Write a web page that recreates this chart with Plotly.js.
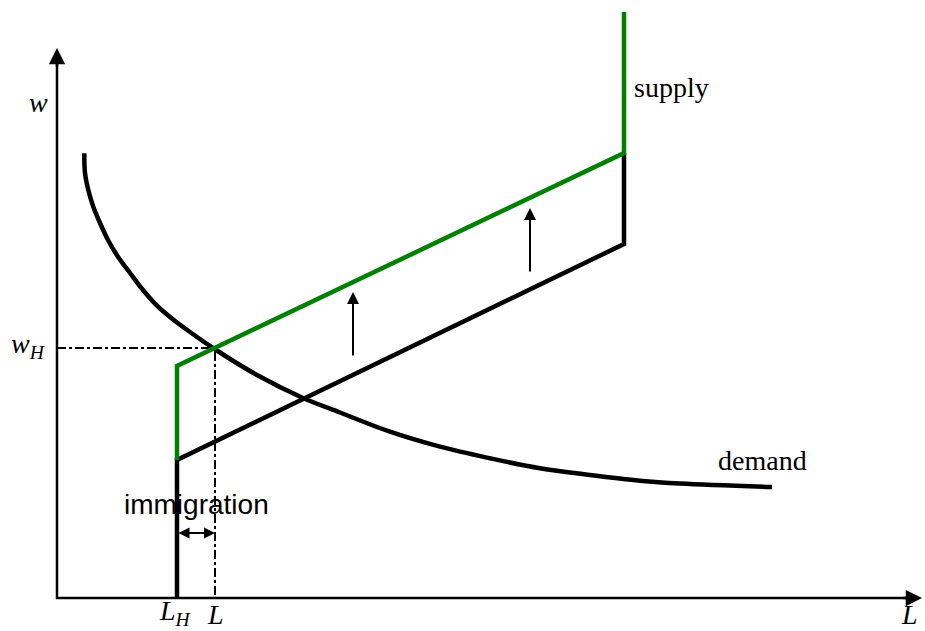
<!DOCTYPE html>
<html>
<head>
<meta charset="utf-8">
<script src="https://cdn.plot.ly/plotly-3.0.1.min.js"></script>
<style>body{margin:0;background:#fff}</style>
</head>
<body>
<div id="myDiv" style="width:925px;height:631px"></div>
<script>
// labour L on x, wage w on y (arbitrary units)
var demandL = [2.73, 2.8, 3.13, 3.63, 4.3, 5.1, 6.1, 7.3, 8.6, 10.1, 11.8, 13.3,
        15.6, 20.0, 24.6, 28.3, 33.3, 38.3, 43.3, 48.3, 53.3, 58.3, 62.3, 71.5]
var demandW = [44.47, 42.5, 40.8, 39.13, 37.5, 35.8, 34.13, 32.5, 30.8, 29.13, 27.7, 26.6,
        25.0, 22.3, 20.0, 18.55, 16.63, 15.13, 13.97, 12.97, 12.3, 11.73, 11.45, 11.1]

var supplyL = [12.0, 12.0, 56.7, 56.7]
var supplyW = [0, 13.8, 35.4, 44.5]

var newSupplyL = [12.0, 12.0, 56.7, 56.7]
var newSupplyW = [13.8, 23.2, 44.5, 58.6]

var LH = 12.0
var Lnew = 15.8
var wH = 25.0

var shiftL = [29.6, 47.3]
var shiftFrom = [24.1, 32.5]
var shiftTo = [30.6, 39.0]

var xMax = 86.5
var yMax = 55.0

var serif = 'Liberation Serif, Times New Roman, serif'

var demand = {
    x: demandL, y: demandW, type: 'scatter', mode: 'lines',
    line: {color: '#000', width: 4.5, shape: 'spline', smoothing: 1}
};
var supply = {
    x: supplyL, y: supplyW, type: 'scatter', mode: 'lines',
    line: {color: '#000', width: 4.5}
};
var supply2 = {
    x: newSupplyL, y: newSupplyW, type: 'scatter', mode: 'lines',
    line: {color: '#008000', width: 4.5}
};
var guides = {
    x: [0, Lnew, Lnew], y: [wH, wH, 0], type: 'scatter', mode: 'lines',
    line: {color: '#000', width: 2, dash: 'dashdot'}
};
var axes = {
    x: [0, 0, xMax - 1], y: [yMax - 1, 0, 0], type: 'scatter', mode: 'lines',
    line: {color: '#000', width: 2.5}
};

var data = [axes, guides, demand, supply, supply2];

function arrow(x0, y0, x1, y1, w, extra) {
    var a = {x: x1, y: y1, ax: x0, ay: y0, xref: 'x', yref: 'y', axref: 'x', ayref: 'y',
        text: '', showarrow: true, arrowhead: 2, arrowsize: 1.2, arrowwidth: w, arrowcolor: '#000'};
    for (var k in extra) a[k] = extra[k];
    return a;
}

function label(x, y, txt, size, extra) {
    var a = {x: x, y: y, xref: 'x', yref: 'y', text: txt, showarrow: false,
        font: {family: serif, size: size, color: '#000'}};
    for (var k in extra) a[k] = extra[k];
    return a;
}

var annotations = [
    arrow(0, yMax - 2, 0, yMax, 2.5, {arrowsize: 1.3}),
    arrow(xMax - 2, 0, xMax, 0, 2.5, {arrowsize: 1.3}),
    arrow(LH, 6.5, Lnew, 6.5, 2, {arrowside: 'end+start', arrowsize: 1.1}),
    label(-1.9, 49.6, '<i>w</i>', 28),
    label(-2.9, 25.3, '<i>w<sub>H</sub></i>', 28),
    label(11.8, -1.45, '<i>L<sub>H</sub></i>', 28),
    label(15.8, -1.6, '<i>L</i>', 28),
    label(85.2, -1.6, '<i>L</i>', 28),
    label(57.5, 51.1, 'supply', 28, {xanchor: 'left'}),
    label(65.9, 13.8, 'demand', 28, {xanchor: 'left'}),
    label(13.9, 9.4, 'immigration', 28, {font: {family: 'Liberation Sans, Arial, sans-serif', size: 28, color: '#000'}})
];
for (var i = 0; i < shiftL.length; i++) {
    annotations.push(arrow(shiftL[i], shiftFrom[i], shiftL[i], shiftTo[i], 2, {arrowsize: 1.2}));
}

var layout = {
    width: 925, height: 631,
    margin: {l: 0, r: 0, t: 0, b: 0},
    paper_bgcolor: '#fff', plot_bgcolor: '#fff',
    showlegend: false,
    xaxis: {range: [-5.7, 86.8], visible: false, fixedrange: true},
    yaxis: {range: [-3.3, 59.8], visible: false, fixedrange: true},
    annotations: annotations
};

Plotly.newPlot('myDiv', data, layout, {staticPlot: true});
</script>
</body>
</html>
